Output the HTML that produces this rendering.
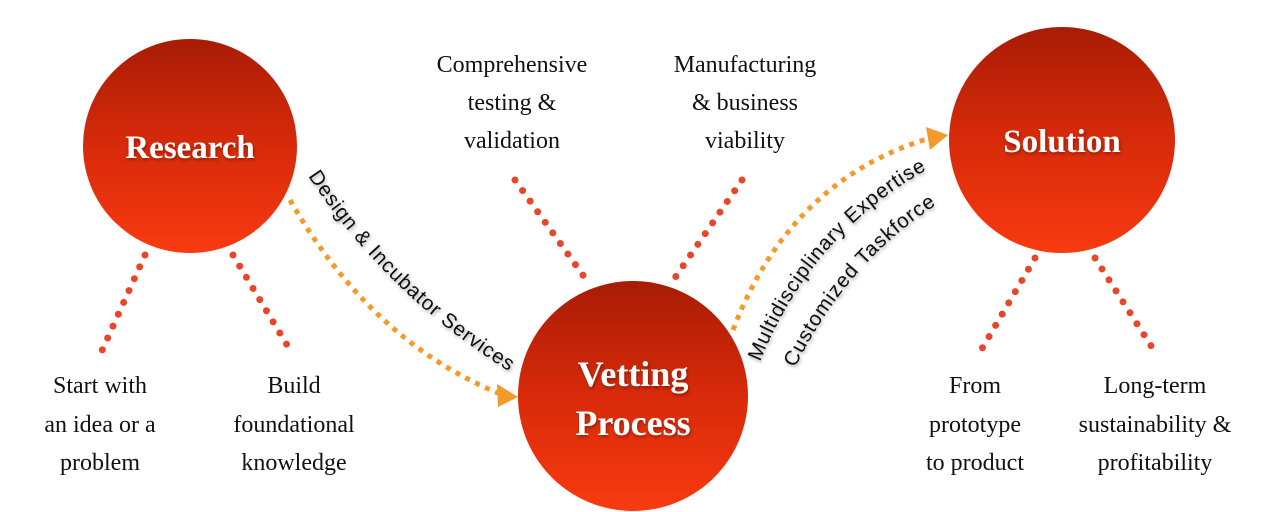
<!DOCTYPE html>
<html><head><meta charset="utf-8"><style>
html,body{margin:0;padding:0;background:#fff;}
svg{display:block;}
.lb{font-family:"Liberation Serif",serif;font-size:24px;fill:#111;text-anchor:middle;}
.tt{font-family:"Liberation Serif",serif;font-size:33px;font-weight:bold;fill:#fff;text-anchor:middle;}
.cv{font-family:"Liberation Sans",sans-serif;font-size:20.5px;fill:#111;letter-spacing:0.9px;}
</style></head><body>
<svg width="1280" height="512" viewBox="0 0 1280 512" xmlns="http://www.w3.org/2000/svg">
<defs>
<linearGradient id="g" x1="0" y1="0" x2="0" y2="1">
<stop offset="0" stop-color="#a81c05"/><stop offset="0.5" stop-color="#d82a0a"/><stop offset="1" stop-color="#f83a10"/>
</linearGradient>
<filter id="sh" x="-10%" y="-10%" width="120%" height="120%"><feDropShadow dx="1" dy="2" stdDeviation="1.5" flood-color="#000" flood-opacity="0.35"/></filter>
<path id="p1" d="M308,176 Q390,300 520,378"/>
<path id="p2" d="M760,362 Q815,225 945,160"/>
<path id="p3" d="M795,368 Q850,255 952,195"/>
</defs>
<g stroke="#e8452a" stroke-width="7" stroke-linecap="round" stroke-dasharray="0 13" fill="none">
<line x1="145" y1="255" x2="100" y2="355"/>
<line x1="233" y1="255" x2="290" y2="350"/>
<line x1="515" y1="180" x2="590" y2="285"/>
<line x1="742" y1="180" x2="670" y2="285"/>
<line x1="1035" y1="258" x2="980" y2="352"/>
<line x1="1095" y1="258" x2="1155" y2="352"/>
</g>
<g stroke="#f39a2a" stroke-width="5" stroke-dasharray="5 6" fill="none">
<path d="M290,200 Q370,340 498,393"/>
<path d="M733,330 Q790,180 930,138"/>
</g>
<polygon points="518,397 497,384 498,407" fill="#f39a2a"/>
<polygon points="948,135 926,127 930,150" fill="#f39a2a"/>
<circle cx="190" cy="146" r="107" fill="url(#g)"/>
<circle cx="633" cy="396" r="115" fill="url(#g)"/>
<circle cx="1062" cy="140" r="113" fill="url(#g)"/>
<text class="tt" x="190" y="158" filter="url(#sh)">Research</text>
<text class="tt" x="633" y="386" style="font-size:36px" filter="url(#sh)">Vetting</text>
<text class="tt" x="633" y="435" style="font-size:36px" filter="url(#sh)">Process</text>
<text class="tt" x="1062" y="152" filter="url(#sh)">Solution</text>
<g filter="url(#sh)">
<text class="cv"><textPath href="#p1">Design &amp; Incubator Services</textPath></text>
<text class="cv"><textPath href="#p2">Multidisciplinary Expertise</textPath></text>
<text class="cv"><textPath href="#p3">Customized Taskforce</textPath></text>
</g>
<text class="lb" x="100" y="393">Start with</text>
<text class="lb" x="100" y="432">an idea or a</text>
<text class="lb" x="100" y="470">problem</text>
<text class="lb" x="294" y="393">Build</text>
<text class="lb" x="294" y="432">foundational</text>
<text class="lb" x="294" y="470">knowledge</text>
<text class="lb" x="512" y="72">Comprehensive</text>
<text class="lb" x="512" y="110">testing &amp;</text>
<text class="lb" x="512" y="148">validation</text>
<text class="lb" x="745" y="72">Manufacturing</text>
<text class="lb" x="745" y="110">&amp; business</text>
<text class="lb" x="745" y="148">viability</text>
<text class="lb" x="975" y="393">From</text>
<text class="lb" x="975" y="432">prototype</text>
<text class="lb" x="975" y="470">to product</text>
<text class="lb" x="1155" y="393">Long-term</text>
<text class="lb" x="1155" y="432">sustainability &amp;</text>
<text class="lb" x="1155" y="470">profitability</text>
</svg>
</body></html>
